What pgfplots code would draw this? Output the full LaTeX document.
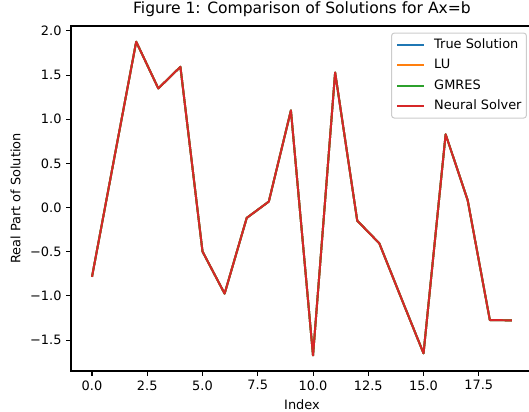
\documentclass[border=0pt]{standalone}
\usepackage{fontspec}
\setmainfont{DejaVu Sans}
\usepackage{pgfplots}
\usepackage{pgfplotstable}
\pgfplotsset{compat=1.18}
\definecolor{tabblue}{HTML}{1F77B4}
\definecolor{taborange}{HTML}{FF7F0E}
\definecolor{tabgreen}{HTML}{2CA02C}
\definecolor{tabred}{HTML}{D62728}

% index vs real part of solution (all four solvers agree)
\pgfplotstableread{
x  y
0  -0.784
1   0.55
2   1.878
3   1.349
4   1.594
5  -0.497
6  -0.974
7  -0.117
8   0.068
9   1.10
10 -1.674
11  1.53
12 -0.148
13 -0.405
14 -1.03
15 -1.65
16  0.83
17  0.08
18 -1.273
19 -1.277
}\soln

\begin{document}
\begin{tikzpicture}
\useasboundingbox (-51.12pt,-29.52pt) rectangle (329.76pt,267.12pt);
\begin{axis}[
    at={(0pt,0pt)}, anchor=south west,
    scale only axis, width=332.6pt, height=248.4pt,
    xmin=-0.95, xmax=19.95, ymin=-1.85, ymax=2.056,
    xtick={0,2.5,5,7.5,10,12.5,15,17.5},
    xticklabels={0.0,2.5,5.0,7.5,10.0,12.5,15.0,17.5},
    ytick={-1.5,-1,-0.5,0,0.5,1,1.5,2},
    yticklabels={−1.5,−1.0,−0.5,0.0,0.5,1.0,1.5,2.0},
    tick align=outside, xtick pos=bottom, ytick pos=left,
    major tick length=3.3pt,
    tick style={black, line width=0.75pt},
    axis line style={black, line width=0.75pt},
    ticklabel style={font=\fontsize{9.3}{11}\selectfont},
    label style={font=\fontsize{9.3}{11}\selectfont},
    ylabel style={yshift=0pt},
    title style={font=\fontsize{11.2}{13}\selectfont, at={(0.5,1)}, anchor=base, yshift=2.8pt},
    title={Figure 1: Comparison of Solutions for Ax=b},
    xlabel={Index},
    ylabel={Real Part of Solution},
    legend style={at={(0.987,0.981)}, anchor=north east,
      draw=black!20, line width=0.75pt, rounded corners=2pt,
      fill=white, fill opacity=0.8, text opacity=1,
      font=\fontsize{9.3}{11}\selectfont,
      nodes={inner sep=0pt, text height=7pt, text depth=2pt},
      /tikz/every odd column/.append style={column sep=7pt},
      row sep=5.6pt, inner xsep=3.5pt, inner ysep=4.2pt},
    legend cell align=left,
    legend image code/.code={\draw[#1, line width=1.41pt, sharp corners] (0pt,0pt) -- (18.8pt,0pt);},
]
\addplot[tabblue, line width=1.41pt, line join=round] table[x=x,y=y] {\soln};
\addlegendentry{True Solution}
\addplot[taborange, line width=1.41pt, line join=round] table[x=x,y=y] {\soln};
\addlegendentry{LU}
\addplot[tabgreen, line width=1.41pt, line join=round] table[x=x,y=y] {\soln};
\addlegendentry{GMRES}
\addplot[tabred, line width=1.41pt, line join=round] table[x=x,y=y] {\soln};
\addlegendentry{Neural Solver}
\end{axis}
\end{tikzpicture}
\end{document}
